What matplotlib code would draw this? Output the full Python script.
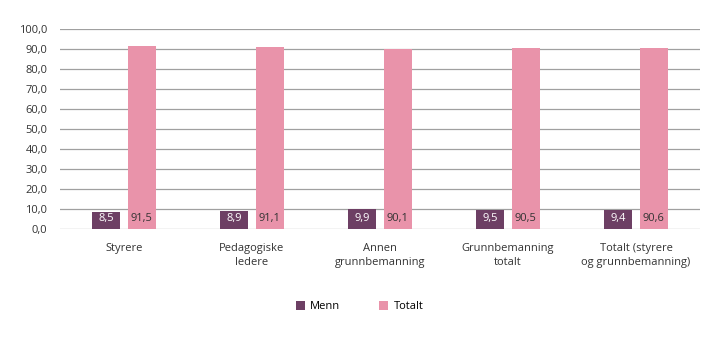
import numpy as np
import matplotlib.pyplot as plt

categories = ['Styrere', 'Pedagogiske\nledere', 'Annen\ngrunnbemanning',
              'Grunnbemanning\ntotalt', 'Totalt (styrere\nog grunnbemanning)']
menn = [8.5, 8.9, 9.9, 9.5, 9.4]
totalt = [91.5, 91.1, 90.1, 90.5, 90.6]

c_menn = '#6d3f64'
c_tot = '#e993aa'

plt.rcParams['font.family'] = ['Open Sans', 'DejaVu Sans']

fig = plt.figure(figsize=(7.19, 3.41), dpi=100)
ax = fig.add_axes([0.0834, 0.3284, 0.8902, 0.5866])

x = np.arange(len(categories))
w = 0.22
off = 0.14
b1 = ax.bar(x - off, menn, w, color=c_menn, label='Menn', zorder=3)
b2 = ax.bar(x + off, totalt, w, color=c_tot, label='Totalt', zorder=3)

for xi, v in zip(x, menn):
    ax.text(xi - off, 5.3, f'{v:.1f}'.replace('.', ','), ha='center', va='center',
            color='white', fontsize=8, zorder=4)
for xi, v in zip(x, totalt):
    ax.text(xi + off, 5.3, f'{v:.1f}'.replace('.', ','), ha='center', va='center',
            color='#333333', fontsize=8, zorder=4)

ax.set_xlim(-0.5, len(categories) - 0.5)
ax.set_ylim(0, 100)
ax.set_yticks(np.arange(0, 101, 10))
ax.set_yticklabels([f'{v:.1f}'.replace('.', ',') for v in np.arange(0, 101, 10)])
ax.set_xticks(x)
ax.set_xticklabels(categories, fontsize=8, color='#333333', linespacing=1.35)
ax.tick_params(axis='y', labelsize=8, labelcolor='#333333', length=0, pad=9)
ax.tick_params(axis='x', length=0, pad=10)
ax.grid(axis='y', color='#a0a0a0', linewidth=0.9, zorder=0)
for s in ax.spines.values():
    s.set_visible(False)

fig.legend(handles=[b1, b2], loc='center', bbox_to_anchor=(0.5, 0.1), ncol=2,
           frameon=False, fontsize=8, handlelength=0.8, handleheight=0.8,
           columnspacing=3.5, handletextpad=0.5)

fig.savefig('out.png', dpi=100)
